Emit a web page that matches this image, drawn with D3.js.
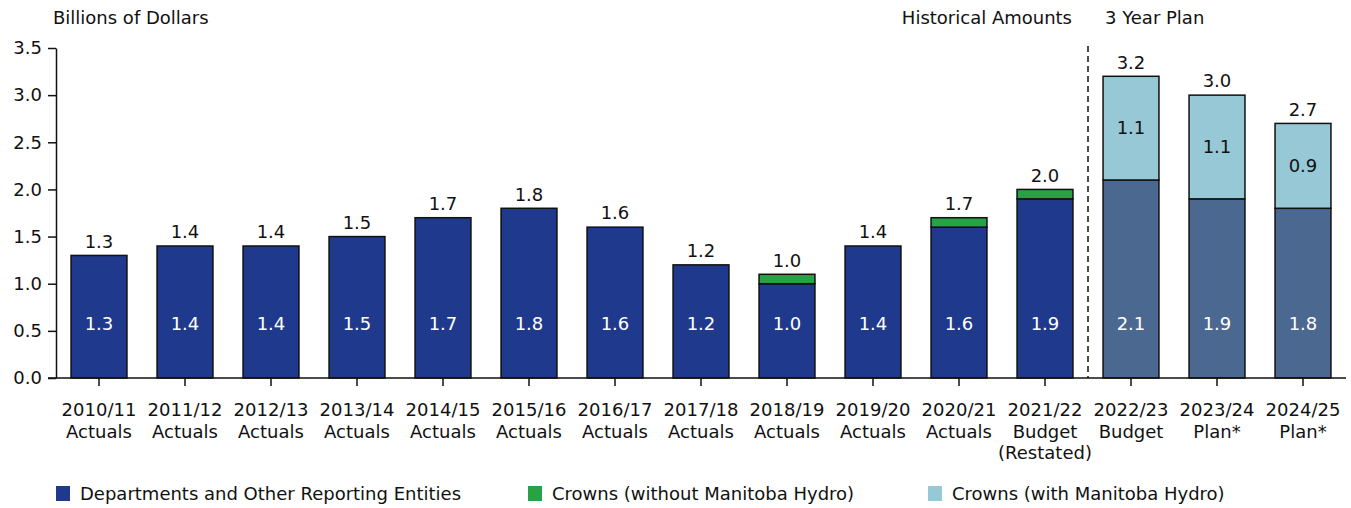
<!DOCTYPE html>
<html>
<head>
<meta charset="utf-8">
<script src="https://cdn.jsdelivr.net/npm/d3@7"></script>
<style>
  body { margin: 0; background: #fff; }
  svg text { font-family: "DejaVu Sans", sans-serif; fill: #111; }
</style>
</head>
<body>
<svg id="chart" width="1351" height="508"></svg>
<script>
// Categories (two/three line labels)
const years = ['2010/11', '2011/12', '2012/13', '2013/14', '2014/15', '2015/16', '2016/17',
               '2017/18', '2018/19', '2019/20', '2020/21', '2021/22', '2022/23', '2023/24', '2024/25'];
const subLabels = [['Actuals'], ['Actuals'], ['Actuals'], ['Actuals'], ['Actuals'], ['Actuals'], ['Actuals'],
                   ['Actuals'], ['Actuals'], ['Actuals'], ['Actuals'], ['Budget', '(Restated)'],
                   ['Budget'], ['Plan*'], ['Plan*']];

// Series values (billions)
const departments  = [1.3, 1.4, 1.4, 1.5, 1.7, 1.8, 1.6, 1.2, 1.0, 1.4, 1.6, 1.9, 2.1, 1.9, 1.8];
const crownsNoHydro = [0, 0, 0, 0, 0, 0, 0, 0, 0.1, 0, 0.1, 0.1, 0, 0, 0];
const crownsHydro   = [0, 0, 0, 0, 0, 0, 0, 0, 0, 0, 0, 0, 1.1, 1.1, 0.9];
const totalLabels   = ['1.3', '1.4', '1.4', '1.5', '1.7', '1.8', '1.6', '1.2', '1.0', '1.4', '1.7', '2.0', '3.2', '3.0', '2.7'];
const planStart = 12; // first index of the 3 year plan

const yTicks = [0, 0.5, 1.0, 1.5, 2.0, 2.5, 3.0, 3.5];

const legendItems = [
  { name: 'Departments and Other Reporting Entities', color: '#1f398c' },
  { name: 'Crowns (without Manitoba Hydro)', color: '#27a244' },
  { name: 'Crowns (with Manitoba Hydro)', color: '#97c8d6' }
];

/*------ Layout ------*/
const svg = d3.select('#chart');
const plotLeft = 56, plotRight = 1346, plotTop = 48, plotBottom = 378;
const fs = 18;

const x = d3.scaleBand()
  .domain(years)
  .range([plotLeft, plotRight])
  .paddingInner(0.35)
  .paddingOuter(0.175);

const y = d3.scaleLinear()
  .domain([0, 3.5])
  .range([plotBottom, plotTop]);

const deptColor = i => i >= planStart ? '#4b6890' : '#1f398c';

// Y axis
const yAxis = svg.append('g')
  .attr('transform', `translate(${plotLeft},0)`)
  .call(d3.axisLeft(y).tickValues(yTicks).tickFormat(d3.format('.1f')).tickSize(8).tickSizeOuter(0));
yAxis.select('.domain').attr('stroke', '#111').attr('stroke-width', 1.5);
yAxis.selectAll('.tick line').attr('stroke', '#111').attr('stroke-width', 1.5);
yAxis.selectAll('.tick text').attr('font-size', fs).attr('x', -14).style('font-family', '"DejaVu Sans", sans-serif').attr('fill', '#111');

// Bars: departments
const idx = d3.range(years.length);
svg.append('g').selectAll('rect.dept')
  .data(idx)
  .join('rect')
  .attr('x', i => x(years[i]))
  .attr('width', x.bandwidth())
  .attr('y', i => y(departments[i]))
  .attr('height', i => y(0) - y(departments[i]))
  .attr('fill', i => deptColor(i))
  .attr('stroke', '#111')
  .attr('stroke-width', 1.5);

// Crowns without hydro
svg.append('g').selectAll('rect')
  .data(idx.filter(i => crownsNoHydro[i] > 0))
  .join('rect')
  .attr('x', i => x(years[i]))
  .attr('width', x.bandwidth())
  .attr('y', i => y(departments[i] + crownsNoHydro[i]))
  .attr('height', i => y(departments[i]) - y(departments[i] + crownsNoHydro[i]))
  .attr('fill', '#27a244')
  .attr('stroke', '#111')
  .attr('stroke-width', 1.5);

// Crowns with hydro
svg.append('g').selectAll('rect')
  .data(idx.filter(i => crownsHydro[i] > 0))
  .join('rect')
  .attr('x', i => x(years[i]))
  .attr('width', x.bandwidth())
  .attr('y', i => y(departments[i] + crownsHydro[i]))
  .attr('height', i => y(departments[i]) - y(departments[i] + crownsHydro[i]))
  .attr('fill', '#97c8d6')
  .attr('stroke', '#111')
  .attr('stroke-width', 1.5);

// Labels inside (departments)
svg.append('g').selectAll('text')
  .data(idx)
  .join('text')
  .attr('x', i => x(years[i]) + x.bandwidth() / 2)
  .attr('y', y(0.58))
  .attr('dy', '0.35em')
  .attr('text-anchor', 'middle')
  .attr('font-size', fs)
  .style('fill', '#fff')
  .text(i => departments[i].toFixed(1));

// Labels inside (hydro crowns)
svg.append('g').selectAll('text')
  .data(idx.filter(i => crownsHydro[i] > 0))
  .join('text')
  .attr('x', i => x(years[i]) + x.bandwidth() / 2)
  .attr('y', i => y(departments[i] + crownsHydro[i] / 2))
  .attr('dy', '0.35em')
  .attr('text-anchor', 'middle')
  .attr('font-size', fs)
  .text(i => crownsHydro[i].toFixed(1));

// Total labels on top
svg.append('g').selectAll('text')
  .data(idx)
  .join('text')
  .attr('x', i => x(years[i]) + x.bandwidth() / 2)
  .attr('y', i => y(departments[i] + crownsNoHydro[i] + crownsHydro[i]) - 14)
  .attr('dy', '0.35em')
  .attr('text-anchor', 'middle')
  .attr('font-size', fs)
  .text(i => totalLabels[i]);

// X axis
const xAxis = svg.append('g')
  .attr('transform', `translate(0,${plotBottom})`)
  .call(d3.axisBottom(x).tickSize(8).tickSizeOuter(0).tickFormat(''));
xAxis.select('.domain').attr('stroke', '#111').attr('stroke-width', 1.5).attr('d', `M${plotLeft - 8},0H${plotRight}`);
xAxis.selectAll('.tick line').attr('stroke', '#111').attr('stroke-width', 1.5);

// X labels
const xl = svg.append('g').selectAll('text')
  .data(idx)
  .join('text')
  .attr('x', i => x(years[i]) + x.bandwidth() / 2)
  .attr('y', 410)
  .attr('dy', '0.35em')
  .attr('text-anchor', 'middle')
  .attr('font-size', fs);
xl.append('tspan').attr('x', i => x(years[i]) + x.bandwidth() / 2).text(i => years[i]);
xl.each(function (i) {
  subLabels[i].forEach(s => {
    d3.select(this).append('tspan')
      .attr('x', x(years[i]) + x.bandwidth() / 2)
      .attr('dy', 21.5)
      .text(s);
  });
});

// Divider between history and plan
const divX = (x(years[planStart - 1]) + x.bandwidth() + x(years[planStart])) / 2;
svg.append('line')
  .attr('x1', divX).attr('x2', divX)
  .attr('y1', 46).attr('y2', plotBottom)
  .attr('stroke', '#111')
  .attr('stroke-width', 1.5)
  .attr('stroke-dasharray', '6,4');

// Titles
svg.append('text').attr('x', 53).attr('y', 18).attr('dy', '0.35em').attr('font-size', fs).text('Billions of Dollars');
svg.append('text').attr('x', divX - 16).attr('y', 18).attr('dy', '0.35em').attr('font-size', fs)
  .attr('text-anchor', 'end').text('Historical Amounts');
svg.append('text').attr('x', divX + 17).attr('y', 18).attr('dy', '0.35em').attr('font-size', fs).text('3 Year Plan');

// Legend
const legendX = [56, 528, 928];
const lg = svg.append('g').selectAll('g')
  .data(legendItems)
  .join('g')
  .attr('transform', (d, i) => `translate(${legendX[i]},486)`);
lg.append('rect').attr('width', 14).attr('height', 15).attr('fill', d => d.color);
lg.append('text').attr('x', 24).attr('y', 7.5).attr('dy', '0.35em').attr('font-size', fs).text(d => d.name);
</script>
</body>
</html>
